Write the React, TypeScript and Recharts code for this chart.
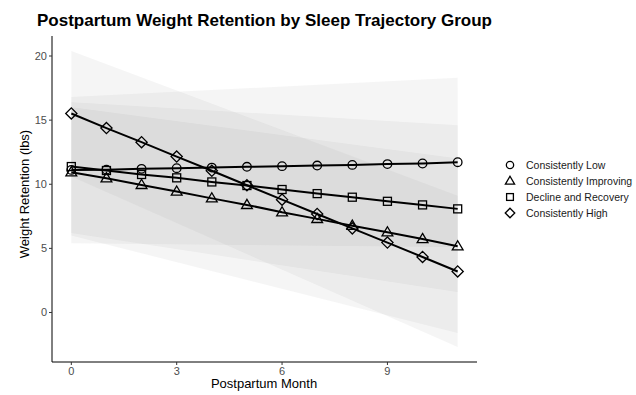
import React from 'react';
import { ComposedChart, Line, Area, XAxis, YAxis } from 'recharts';

const months = [0, 1, 2, 3, 4, 5, 6, 7, 8, 9, 10, 11];
const consistentlyLow = [11.12, 11.14, 11.2, 11.25, 11.3, 11.36, 11.41, 11.46, 11.51, 11.57, 11.62, 11.72];
const consistentlyImproving = [10.94, 10.47, 9.95, 9.43, 8.9, 8.39, 7.81, 7.3, 6.77, 6.25, 5.73, 5.16];
const declineAndRecovery = [11.38, 11.07, 10.76, 10.5, 10.18, 9.9, 9.59, 9.27, 8.99, 8.67, 8.39, 8.08];
const consistentlyHigh = [15.52, 14.38, 13.28, 12.16, 11.05, 9.92, 8.8, 7.68, 6.56, 5.45, 4.33, 3.2];

// confidence bands, straight from first to last month
const bandMonths = [0, 11];
const lowBandLower = [5.4, 5.1];
const lowBandUpper = [16.8, 18.3];
const improvingBandLower = [6.0, -1.6];
const improvingBandUpper = [16.0, 12.0];
const declineBandLower = [6.2, 1.6];
const declineBandUpper = [16.4, 14.6];
const highBandLower = [10.6, -2.7];
const highBandUpper = [20.4, 9.1];

const xTicks = [0, 3, 6, 9];
const yTicks = [0, 5, 10, 15, 20];

const groups = ['Consistently Low', 'Consistently Improving', 'Decline and Recovery', 'Consistently High'];
const shapes = ['circle', 'triangle', 'square', 'diamond'];

const data = months.map((m, i) => ({
  month: m,
  low: consistentlyLow[i],
  improving: consistentlyImproving[i],
  decline: declineAndRecovery[i],
  high: consistentlyHigh[i],
}));

const band = (lower: number[], upper: number[]) =>
  bandMonths.map((m, i) => ({ month: m, range: [lower[i], upper[i]] }));

const bands = [
  band(lowBandLower, lowBandUpper),
  band(improvingBandLower, improvingBandUpper),
  band(declineBandLower, declineBandUpper),
  band(highBandLower, highBandUpper),
];

const FONT = '"Liberation Sans", Arial, Helvetica, sans-serif';

function Marker({ shape, cx, cy, s = 1 }: { shape: string; cx: number; cy: number; s?: number }) {
  const common = { fill: 'none', stroke: '#000', strokeWidth: 1.3 };
  if (shape === 'circle') return <circle cx={cx} cy={cy} r={4.3 * s} {...common} />;
  if (shape === 'triangle')
    return (
      <polygon
        points={`${cx},${cy - 5.6 * s} ${cx + 5.4 * s},${cy + 3.6 * s} ${cx - 5.4 * s},${cy + 3.6 * s}`}
        {...common}
      />
    );
  if (shape === 'square') return <rect x={cx - 4 * s} y={cy - 4 * s} width={8 * s} height={8 * s} {...common} />;
  return (
    <polygon
      points={`${cx},${cy - 5.6 * s} ${cx + 5.6 * s},${cy} ${cx},${cy + 5.6 * s} ${cx - 5.6 * s},${cy}`}
      {...common}
    />
  );
}

const dotFor = (shape: string) => (props: any) =>
  <Marker key={`${shape}-${props.index}`} shape={shape} cx={props.cx} cy={props.cy} />;

export default function App() {
  const keys = ['low', 'improving', 'decline', 'high'];
  return (
    <div style={{ position: 'absolute', left: 0, top: 0, width: 636, height: 395, background: '#fff', fontFamily: FONT }}>
      <ComposedChart
        width={636}
        height={395}
        data={data}
        margin={{ top: 36, right: 159, left: 22, bottom: 0 }}
      >
        <XAxis
          dataKey="month"
          type="number"
          domain={[-0.55, 11.55]}
          ticks={xTicks}
          height={33}
          allowDataOverflow
          stroke="#000"
          tickSize={3}
          tick={{ fill: '#4d4d4d', fontSize: 11, fontFamily: FONT }}
          tickLine={{ stroke: '#333' }}
        />
        <YAxis
          type="number"
          domain={[-3.86, 21.56]}
          ticks={yTicks}
          width={30}
          allowDataOverflow
          stroke="#000"
          tickSize={3}
          tick={{ fill: '#4d4d4d', fontSize: 11, fontFamily: FONT }}
          tickLine={{ stroke: '#333' }}
        />
        {bands.map((b, i) => (
          <Area
            key={`band-${i}`}
            data={b}
            dataKey="range"
            type="linear"
            stroke="none"
            fill="#999"
            fillOpacity={0.1}
            isAnimationActive={false}
          />
        ))}
        {keys.map((k, i) => (
          <Line
            key={k}
            dataKey={k}
            type="linear"
            stroke="#000"
            strokeWidth={2}
            dot={dotFor(shapes[i])}
            activeDot={false}
            isAnimationActive={false}
          />
        ))}
      </ComposedChart>
      <svg width={636} height={395} style={{ position: 'absolute', left: 0, top: 0, pointerEvents: 'none' }}>
        <text x={37} y={26} fontSize={17} fontWeight="bold" fill="#000" fontFamily={FONT}>
          Postpartum Weight Retention by Sleep Trajectory Group
        </text>
        <text x={264} y={388} fontSize={13} textAnchor="middle" fill="#000" fontFamily={FONT}>
          Postpartum Month
        </text>
        <text
          x={0}
          y={0}
          fontSize={13}
          textAnchor="middle"
          fill="#000"
          fontFamily={FONT}
          transform="translate(29,194) rotate(-90)"
        >
          Weight Retention (lbs)
        </text>
        {groups.map((g, i) => {
          const y = 165 + i * 16;
          return (
            <g key={g}>
              <Marker shape={shapes[i]} cx={510} cy={y} s={0.85} />
              <text x={526} y={y + 3.7} fontSize={10.5} fill="#1a1a1a" fontFamily={FONT}>
                {g}
              </text>
            </g>
          );
        })}
      </svg>
    </div>
  );
}
